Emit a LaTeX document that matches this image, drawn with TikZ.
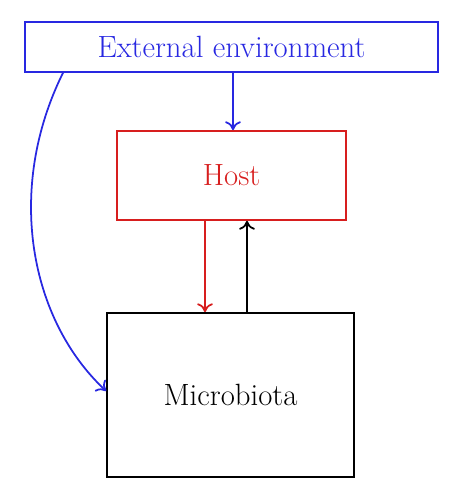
\documentclass[tikz,border=0pt]{standalone}
\usepackage{tikz}
\usetikzlibrary{arrows.meta}
\definecolor{envblue}{RGB}{40,40,225}
\definecolor{hostred}{RGB}{215,30,30}
\tikzset{box/.style n args={3}{
    draw=#1, text=#1, line width=1pt, minimum width=#2, minimum height=#3,
    inner sep=0pt, font=\fontsize{17.5}{20}\selectfont
  },
  link/.style={-{To[length=5pt,width=9pt]}, line width=1pt, draw=#1}
}

\begin{document}
\begin{tikzpicture}[x=0.02cm, y=-0.02cm]
      \useasboundingbox (0,0) rectangle (462,500);
      \node[box={envblue}{8.26cm}{1cm}] (env) at (231.5,47) {External environment};
      \node[box={hostred}{4.58cm}{1.78cm}] (host) at (231.5,175.5) {Host};
      \node[box={black}{4.94cm}{3.28cm}] (micro) at (230.5,395) {Microbiota};
      \draw[link=envblue] (env.south -| 233,0) -- (host.north -| 233,0);
      \draw[link=hostred] (host.south -| 205,0) -- (micro.north -| 205,0);
      \draw[link=black] (micro.north -| 247,0) -- (host.south -| 247,0);
      \draw[link=envblue] (env.south -| 63,0) .. controls (5,190) and (30,320) .. (micro.west |- 0,391);
    \end{tikzpicture}
\end{document}
